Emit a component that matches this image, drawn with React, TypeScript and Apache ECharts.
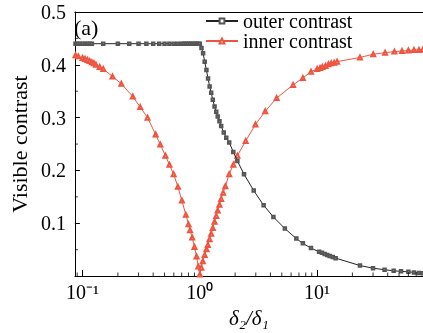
import React, { useEffect, useRef } from "react";
import * as echarts from "echarts";

const FONT = "Liberation Serif";

// inner contrast (red, triangles): [δ2/δ1, contrast]
const innerData: [number, number][] = [
  [0.087, 0.418], [0.092, 0.416], [0.1, 0.413], [0.105, 0.411], [0.11, 0.409],
  [0.115, 0.407], [0.12, 0.405], [0.125, 0.403], [0.13, 0.4], [0.14, 0.396],
  [0.15, 0.392], [0.18, 0.378], [0.214, 0.364], [0.268, 0.34], [0.31, 0.32],
  [0.358, 0.3], [0.42, 0.268], [0.46, 0.249], [0.509, 0.228], [0.55, 0.211],
  [0.598, 0.193], [0.65, 0.169], [0.703, 0.143], [0.76, 0.116], [0.8, 0.098],
  [0.825, 0.087], [0.86, 0.073], [0.9, 0.055], [0.938, 0.037], [0.97, 0.018],
  [1.0, 0.003], [1.03, 0.016], [1.06, 0.028], [1.1, 0.04], [1.14, 0.051],
  [1.17, 0.059], [1.21, 0.07], [1.25, 0.08], [1.29, 0.091], [1.335, 0.103],
  [1.38, 0.114], [1.42, 0.124], [1.47, 0.135], [1.52, 0.146], [1.58, 0.158],
  [1.65, 0.17], [1.78, 0.193], [1.93, 0.211], [2.09, 0.228], [2.46, 0.256],
  [2.98, 0.287], [3.61, 0.312], [4.52, 0.337], [6.24, 0.362], [7.56, 0.375],
  [8.87, 0.387], [10, 0.392], [10.6, 0.394], [11.1, 0.396], [11.8, 0.398],
  [12.5, 0.401], [13.2, 0.403], [14, 0.404], [14.8, 0.406], [23.2, 0.414],
  [30.1, 0.42], [38, 0.423], [45.6, 0.425], [53, 0.426], [60, 0.427],
  [67, 0.428], [73.9, 0.428], [80, 0.429],
];

// outer contrast (black, squares): [δ2/δ1, contrast]
const outerData: [number, number][] = [
  [0.087, 0.44], [0.09, 0.44], [0.095, 0.44], [0.1, 0.44], [0.105, 0.44],
  [0.11, 0.44], [0.115, 0.44], [0.12, 0.44], [0.15, 0.44], [0.2, 0.44],
  [0.25, 0.44], [0.3, 0.44], [0.35, 0.44], [0.4, 0.44], [0.45, 0.44],
  [0.5, 0.44], [0.55, 0.44], [0.6, 0.44], [0.65, 0.44], [0.7, 0.44],
  [0.73, 0.44], [0.76, 0.44], [0.79, 0.44], [0.82, 0.44], [0.85, 0.44],
  [0.88, 0.44], [0.91, 0.44], [0.94, 0.44], [0.97, 0.44], [1.0, 0.44],
  [1.033, 0.432], [1.066, 0.422], [1.1, 0.406], [1.138, 0.39], [1.175, 0.374],
  [1.212, 0.359], [1.25, 0.347], [1.29, 0.334], [1.335, 0.321], [1.38, 0.311],
  [1.42, 0.302], [1.47, 0.293], [1.52, 0.284], [1.6, 0.272], [1.68, 0.262],
  [1.78, 0.253], [1.93, 0.235], [2.09, 0.218], [2.38, 0.193], [2.88, 0.162],
  [3.5, 0.134], [4.24, 0.112], [5.31, 0.09], [6.65, 0.071], [7.56, 0.062],
  [8.87, 0.053], [10.4, 0.046], [11, 0.044], [11.6, 0.042], [12.2, 0.04],
  [12.8, 0.038], [13.6, 0.036], [14.4, 0.034], [23.2, 0.02], [30, 0.015],
  [37.6, 0.012], [45, 0.01], [52, 0.009], [60, 0.008], [67, 0.007],
  [73.9, 0.006], [80, 0.0055],
];

const seriesNames = ["outer contrast", "inner contrast"];
const xMin = 0.086;
const xMax = 80;
const xMajorTicks = [0.1, 1, 10];
const xTickLabels = ["10\u207b\u00b9", "10\u2070", "10\u00b9"];
const xMinorTicks = [
  0.09, 0.2, 0.3, 0.4, 0.5, 0.6, 0.7, 0.8, 0.9,
  2, 3, 4, 5, 6, 7, 8, 9, 20, 30, 40, 50, 60, 70,
];
const yMinorTicks = [0.05, 0.15, 0.25, 0.35, 0.45];
const yTickLabels = ["0.1", "0.2", "0.3", "0.4", "0.5"];

const BLACK = "#222222";
const RED = "#ee5540";

export default function App() {
  const ref = useRef<HTMLDivElement>(null);
  useEffect(() => {
    if (!ref.current) return;
    const chart = echarts.init(ref.current, null, { renderer: "svg" });
    chart.setOption({
      animation: false,
      grid: { left: 68, right: -2, top: 12, bottom: 55 },
      legend: {
        data: seriesNames,
        orient: "vertical",
        left: 205,
        top: 11,
        padding: 0,
        itemGap: 0,
        itemWidth: 32,
        itemHeight: 6,
        textStyle: { fontFamily: FONT, fontSize: 20, color: "#000" },
      },
      graphic: [
        {
          type: "text",
          left: 74,
          top: 16,
          style: { text: "(a)", fontFamily: FONT, fontSize: 22, fill: "#000" },
        },
      ],
      xAxis: [
        {
          type: "log",
          logBase: 10,
          min: xMin,
          max: xMax,
          name: "\u03b4\u2082/\u03b4\u2081",
          nameLocation: "middle",
          nameGap: 22,
          nameTextStyle: { fontFamily: FONT, fontSize: 21, fontStyle: "italic", color: "#000" },
          axisLine: { show: true, lineStyle: { color: "#000", width: 1 } },
          axisTick: { show: true, inside: true, length: 6, lineStyle: { color: "#000" } },
          splitLine: { show: false },
          axisLabel: {
            showMinLabel: false,
            showMaxLabel: false,
            margin: 6,
            fontFamily: FONT,
            fontSize: 20,
            color: "#000",
            formatter: (v: number) => {
              const i = xMajorTicks.findIndex((t) => Math.abs(t - v) / t < 1e-6);
              return i < 0 ? "" : xTickLabels[i];
            },
          },
        },
        {
          type: "value",
          position: "top",
          min: 0,
          max: 1,
          axisLine: { show: true, lineStyle: { color: "#000", width: 1 } },
          axisTick: { show: false },
          axisLabel: { show: false },
          splitLine: { show: false },
        },
      ],
      yAxis: {
        type: "value",
        min: 0,
        max: 0.5,
        interval: 0.1,
        name: "Visible contrast",
        nameLocation: "middle",
        nameGap: 42,
        nameTextStyle: { fontFamily: FONT, fontSize: 22, color: "#000" },
        axisLine: { show: true, lineStyle: { color: "#000", width: 1 } },
        axisTick: { show: true, inside: true, length: 5, lineStyle: { color: "#000" } },
        splitLine: { show: false },
        axisLabel: {
          showMinLabel: false,
          margin: 9,
          fontSize: 20,
          fontFamily: FONT,
          color: "#000",
          formatter: (v: number) => {
            const idx = Math.round(v * 10) - 1;
            return idx >= 0 && idx < yTickLabels.length ? yTickLabels[idx] : "";
          },
        },
      },
      series: [
        {
          name: seriesNames[0],
          type: "line",
          data: outerData,
          symbol: "emptyRect",
          symbolSize: 2.5,
          showAllSymbol: true,
          lineStyle: { color: BLACK, width: 1 },
          itemStyle: { color: "#555", borderWidth: 0.6 },
          z: 3,
        },
        {
          name: seriesNames[1],
          type: "line",
          data: innerData,
          symbol: "emptyTriangle",
          symbolSize: 4,
          showAllSymbol: true,
          lineStyle: { color: RED, width: 1 },
          itemStyle: { color: RED, borderWidth: 0.6 },
          z: 2,
        },
        {
          type: "scatter",
          silent: true,
          clip: false,
          data: xMinorTicks.map((v) => [v, 0]),
          symbol: "rect",
          symbolSize: [1, 3.5],
          symbolOffset: [0, "-50%"],
          itemStyle: { color: "#000" },
          z: 5,
        },
        {
          type: "scatter",
          silent: true,
          clip: false,
          data: yMinorTicks.map((v) => [xMin, v]),
          symbol: "rect",
          symbolSize: [3, 1],
          symbolOffset: ["50%", 0],
          itemStyle: { color: "#000" },
          z: 5,
        },
      ],
    });
    return () => chart.dispose();
  }, []);
  return (
    <div
      ref={ref}
      style={{ position: "fixed", left: 0, top: 0, width: 423, height: 333 }}
    />
  );
}
